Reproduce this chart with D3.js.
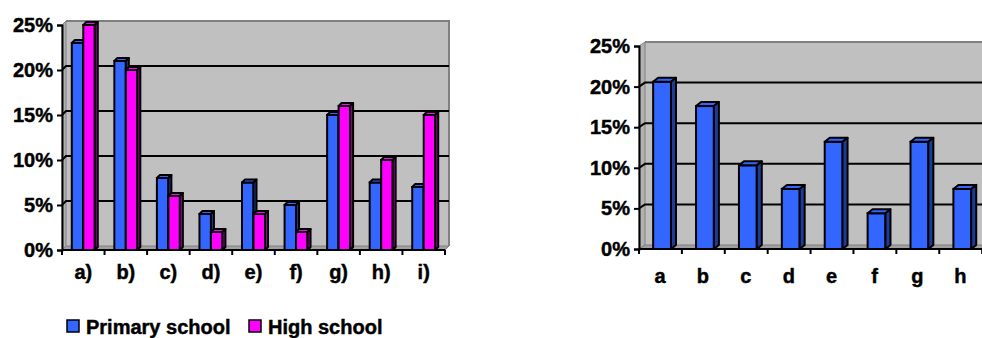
<!DOCTYPE html>
<html>
<head>
<meta charset="utf-8">
<script src="https://cdn.jsdelivr.net/npm/d3@7/dist/d3.min.js"></script>
<style>
  html, body { margin: 0; padding: 0; background: #ffffff; }
  svg { display: block; }
  text { font-family: "Liberation Sans", Arial, sans-serif; font-weight: bold; fill: #000;
         stroke: #000; stroke-width: 0.45px; }
</style>
</head>
<body>
<svg id="chart" width="982" height="338"></svg>
<script>
// Left chart: answers by school level
const leftCategories = ["a)", "b)", "c)", "d)", "e)", "f)", "g)", "h)", "i)"];
const leftSeries = ["Primary school", "High school"];
const primaryValues = [0.23, 0.21, 0.08, 0.04, 0.075, 0.05, 0.15, 0.075, 0.07];
const highValues = [0.25, 0.20, 0.06, 0.02, 0.04, 0.02, 0.16, 0.10, 0.15];

// Right chart: single series
const rightCategories = ["a", "b", "c", "d", "e", "f", "g", "h"];
const rightValues = [0.206, 0.176, 0.103, 0.074, 0.132, 0.044, 0.132, 0.074];

const tickValues = [0, 0.05, 0.10, 0.15, 0.20, 0.25];

const colors = {
  blue: "#3366ff", blueSide: "#1f3b99",
  pink: "#ff00ff", pinkSide: "#990099",
  wall: "#c0c0c0", wallEdge: "#808080",
  floor: "#a0a0a0", sideWall: "#b2b2b2"
};

const svg = d3.select("#chart");
const fmt = d3.format(".0%");

function bar3d(g, x, w, yTop, yBot, dx, dy, fill, side) {
  const sw = 2;
  g.append("rect")
    .attr("x", x).attr("y", yTop).attr("width", w).attr("height", yBot - yTop)
    .attr("fill", fill).attr("stroke", "#000").attr("stroke-width", sw);
  g.append("path")
    .attr("d", `M${x},${yTop}L${x + dx},${yTop + dy}L${x + w + dx},${yTop + dy}L${x + w},${yTop}Z`)
    .attr("fill", fill).attr("stroke", "#000").attr("stroke-width", sw).attr("stroke-linejoin", "round");
  g.append("path")
    .attr("d", `M${x + w},${yTop}L${x + w + dx},${yTop + dy}L${x + w + dx},${yBot + dy}L${x + w},${yBot}Z`)
    .attr("fill", side).attr("stroke", "#000").attr("stroke-width", sw).attr("stroke-linejoin", "round");
}

function frame(g, x, y, left, right, dx, dy) {
  const y0 = y.range()[0], y1 = y.range()[1];
  // back wall
  g.append("rect")
    .attr("x", left + dx).attr("y", y1 + dy)
    .attr("width", right - left).attr("height", y0 - y1)
    .attr("fill", colors.wall);
  g.append("path")
    .attr("d", `M${left + dx},${y1 + dy}L${right + dx},${y1 + dy}L${right + dx},${y0 + dy}`)
    .attr("fill", "none").attr("stroke", colors.wallEdge).attr("stroke-width", 2);
  // side wall
  g.append("path")
    .attr("d", `M${left},${y0}L${left},${y1}L${left + dx},${y1 + dy}L${left + dx},${y0 + dy}Z`)
    .attr("fill", colors.sideWall).attr("stroke", colors.wallEdge).attr("stroke-width", 1);
  // floor
  g.append("path")
    .attr("d", `M${left},${y0}L${left + dx},${y0 + dy}L${right + dx},${y0 + dy}L${right},${y0}Z`)
    .attr("fill", colors.floor).attr("stroke", colors.wallEdge).attr("stroke-width", 1);
  // gridlines on back and side walls
  tickValues.slice(1, -1).forEach(v => {
    const yy = y(v);
    g.append("path")
      .attr("d", `M${left},${yy}L${left + dx},${yy + dy}L${right + dx},${yy + dy}`)
      .attr("fill", "none").attr("stroke", "#000").attr("stroke-width", 2);
  });
}

function axes(g, x, y, left, right, fontSize) {
  const yAxis = d3.axisLeft(y).tickValues(tickValues).tickFormat(fmt).tickSize(5).tickPadding(4);
  const ya = g.append("g").attr("transform", `translate(${left},0)`).call(yAxis);
  ya.attr("font-family", null).attr("font-size", null);
  ya.selectAll("path,line").attr("stroke", "#000").attr("stroke-width", 2);
  ya.selectAll("text").style("font-size", fontSize + "px").attr("fill", "#000");

  const y0 = y.range()[0];
  const step = x.step();
  const bounds = d3.range(x.domain().length + 1).map(i => x.range()[0] + i * step);
  g.append("line").attr("x1", left).attr("x2", right).attr("y1", y0).attr("y2", y0)
    .attr("stroke", "#000").attr("stroke-width", 2);
  g.selectAll(".xt").data(bounds).join("line")
    .attr("x1", d => d).attr("x2", d => d).attr("y1", y0).attr("y2", y0 + 5)
    .attr("stroke", "#000").attr("stroke-width", 2);
}

// ---------- left chart ----------
{
  const g = svg.append("g");
  const left = 62, right = 445, dx = 4, dy = -4;
  const y = d3.scaleLinear().domain([0, 0.25]).range([250, 25]);
  const x0 = d3.scaleBand().domain(leftCategories).range([left, right])
    .paddingInner(0.46).paddingOuter(0.23);
  const x1 = d3.scaleBand().domain(leftSeries).range([0, x0.bandwidth()]);

  frame(g, x0, y, left, right, dx, dy);

  const rows = leftCategories.map((c, i) => ({ c, vals: [primaryValues[i], highValues[i]] }));
  rows.forEach(r => {
    r.vals.forEach((v, j) => {
      const s = leftSeries[j];
      bar3d(g, x0(r.c) + x1(s), x1.bandwidth(), y(v), y(0), 3, -3,
        j === 0 ? colors.blue : colors.pink, j === 0 ? colors.blueSide : colors.pinkSide);
    });
  });

  axes(g, x0, y, left, right, 20);

  g.selectAll(".xl").data(leftCategories).join("text")
    .attr("x", d => x0(d) + x0.bandwidth() / 2)
    .attr("y", 279)
    .attr("text-anchor", "middle")
    .style("font-size", "20px")
    .text(d => d);

  // legend
  const legend = g.append("g");
  const items = [
    { name: leftSeries[0], color: colors.blue, x: 67 },
    { name: leftSeries[1], color: colors.pink, x: 249 }
  ];
  items.forEach(it => {
    legend.append("rect").attr("x", it.x).attr("y", 320).attr("width", 12).attr("height", 12)
      .attr("fill", it.color).attr("stroke", "#000").attr("stroke-width", 1.5);
    legend.append("text").attr("x", it.x + 19).attr("y", 334)
      .style("font-size", "20px").text(it.name);
  });
}

// ---------- right chart ----------
{
  const g = svg.append("g");
  const left = 639, step = 43.3, right = left + step * rightCategories.length, dx = 6, dy = -4;
  const y = d3.scaleLinear().domain([0, 0.25]).range([249, 46]);
  const x = d3.scaleBand().domain(rightCategories).range([left, right])
    .paddingInner(0.584).paddingOuter(0.33);

  frame(g, x, y, left, right + 20, dx, dy);

  rightCategories.forEach((c, i) => {
    bar3d(g, x(c), x.bandwidth(), y(rightValues[i]), y(0), 5, -4, colors.blue, colors.blueSide);
  });

  axes(g, x, y, left, right + 20, 20);

  g.selectAll(".xl").data(rightCategories).join("text")
    .attr("x", d => x(d) + x.bandwidth() / 2 - 2)
    .attr("y", 283)
    .attr("text-anchor", "middle")
    .style("font-size", "20px")
    .text(d => d);
}
</script>
</body>
</html>
